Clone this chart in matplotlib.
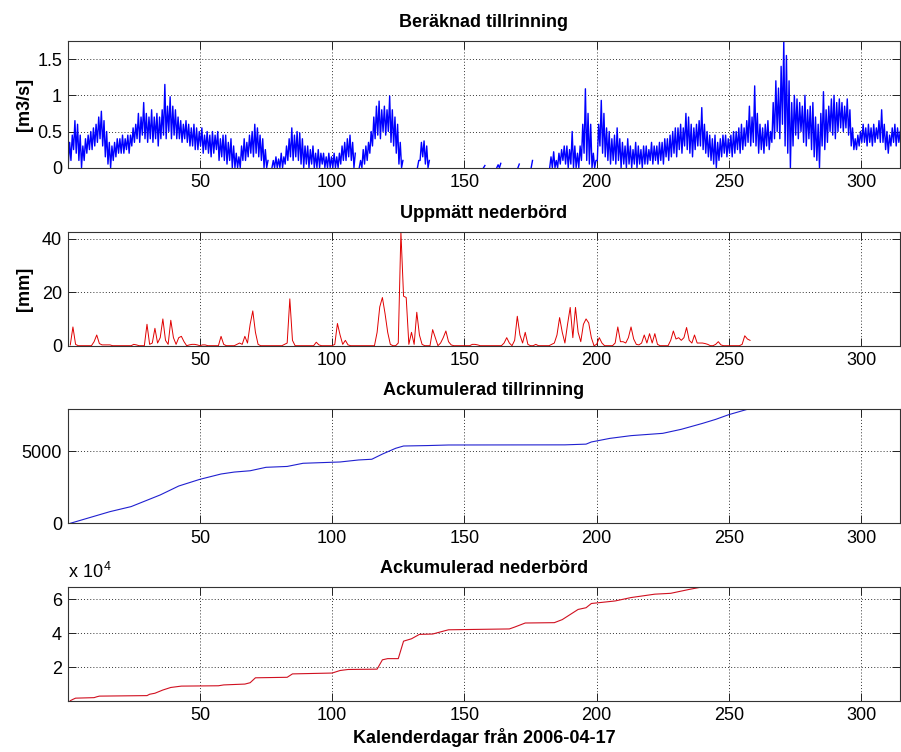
import numpy as np
import matplotlib
matplotlib.use("Agg")
import matplotlib.pyplot as plt

plt.rcParams['font.family'] = ['Liberation Sans', 'DejaVu Sans']
plt.rcParams['mathtext.fontset'] = 'custom'
plt.rcParams['mathtext.rm'] = 'Liberation Sans'

nan = np.nan

# daily low / high of the computed inflow [m3/s], day 1..315 (nan = no data)
FLOW_LO = [
    0.05, 0.1, 0.25, 0.2, 0.1, 0.0, 0.1, 0.2, 0.25, 0.25,
    0.3, 0.35, 0.4, 0.3, 0.15, 0.05, 0.0, 0.1, 0.15, 0.2,
    0.2, 0.2, 0.25, 0.2, 0.3, 0.35, 0.4, 0.35, 0.45, 0.4,
    0.35, 0.4, 0.35, 0.4, 0.3, 0.4, 0.45, 0.4, 0.5, 0.4,
    0.45, 0.4, 0.4, 0.35, 0.4, 0.35, 0.3, 0.3, 0.25, 0.25,
    0.3, 0.2, 0.25, 0.2, 0.15, 0.2, 0.25, 0.1, 0.15, 0.1,
    0.05, 0.1, 0.0, 0.0, 0.0, 0.0, 0.1, 0.1, 0.15, 0.2,
    0.15, 0.2, 0.15, 0.1, 0.0, 0.0, nan, 0.0, 0.0, 0.0,
    0.0, 0.0, 0.05, 0.1, 0.15, 0.1, 0.15, 0.1, 0.05, 0.0,
    0.05, 0.0, 0.05, 0.0, 0.0, 0.0, 0.05, 0.0, 0.0, 0.0,
    0.0, 0.0, 0.0, 0.05, 0.1, 0.1, 0.15, 0.1, 0.0, nan,
    0.0, 0.0, 0.05, 0.1, 0.2, 0.3, 0.4, 0.45, 0.4, 0.5,
    0.45, 0.5, 0.35, 0.3, 0.2, 0.05, 0.0, nan, nan, nan,
    nan, nan, 0.0, 0.1, 0.15, 0.05, 0.0, nan, nan, nan,
    nan, nan, nan, nan, nan, nan, nan, nan, nan, nan,
    nan, nan, nan, nan, nan, nan, nan, 0.0, nan, nan,
    nan, nan, 0.0, 0.0, nan, nan, nan, nan, nan, nan,
    0.0, nan, nan, nan, nan, 0.0, nan, nan, nan, nan,
    nan, nan, 0.0, 0.0, 0.0, 0.0, 0.05, 0.1, 0.05, 0.0,
    0.05, 0.0, 0.0, 0.0, 0.1, 0.2, 0.1, 0.05, 0.0, 0.0,
    0.1, 0.3, 0.2, 0.15, 0.1, 0.05, 0.1, 0.05, 0.1, 0.0,
    0.05, 0.0, 0.05, 0.0, 0.05, 0.0, 0.05, 0.0, 0.05, 0.05,
    0.1, 0.05, 0.1, 0.05, 0.1, 0.05, 0.15, 0.1, 0.15, 0.2,
    0.15, 0.25, 0.2, 0.3, 0.25, 0.2, 0.15, 0.25, 0.3, 0.3,
    0.25, 0.2, 0.15, 0.1, 0.05, 0.0, 0.1, 0.15, 0.2, 0.15,
    0.2, 0.15, 0.2, 0.25, 0.2, 0.25, 0.3, 0.35, 0.3, 0.35,
    0.3, 0.2, 0.25, 0.2, 0.3, 0.25, 0.35, 0.4, 0.5, 0.4,
    0.6, 0.3, 0.2, 0.0, 0.3, 0.45, 0.4, 0.5, 0.35, 0.3,
    0.4, 0.25, 0.15, 0.1, 0.0, 0.3, 0.25, 0.35, 0.5, 0.45,
    0.4, 0.5, 0.55, 0.5, 0.55, 0.45, 0.3, 0.25, 0.25, 0.3,
    0.35, 0.35, 0.3, 0.35, 0.3, 0.35, 0.4, 0.35, 0.35, 0.25,
    0.2, 0.3, 0.35, 0.3, 0.35,
]
FLOW_HI = [
    0.35, 0.45, 0.65, 0.6, 0.45, 0.3, 0.4, 0.45, 0.5, 0.55,
    0.6, 0.7, 0.78, 0.65, 0.5, 0.35, 0.3, 0.35, 0.4, 0.4,
    0.45, 0.4, 0.45, 0.45, 0.55, 0.6, 0.75, 0.7, 0.9, 0.75,
    0.7, 0.8, 0.7, 0.75, 0.7, 0.8, 1.15, 0.85, 0.98, 0.85,
    0.8, 0.7, 0.65, 0.6, 0.65, 0.6, 0.55, 0.6, 0.55, 0.5,
    0.55, 0.45, 0.5, 0.45, 0.5, 0.45, 0.5, 0.4, 0.45, 0.45,
    0.35, 0.4, 0.3, 0.2, 0.15, 0.3, 0.4, 0.35, 0.45, 0.5,
    0.6, 0.55, 0.45, 0.4, 0.25, 0.1, nan, 0.1, 0.15, 0.12,
    0.2, 0.15, 0.3, 0.4, 0.55, 0.45, 0.5, 0.48, 0.4, 0.3,
    0.3, 0.25, 0.3, 0.2, 0.25, 0.2, 0.2, 0.15, 0.2, 0.15,
    0.2, 0.15, 0.2, 0.3, 0.35, 0.4, 0.45, 0.35, 0.2, nan,
    0.1, 0.25, 0.3, 0.35, 0.5, 0.7, 0.85, 0.92, 0.8, 0.85,
    0.8, 0.99, 0.8, 0.7, 0.6, 0.35, 0.1, nan, nan, nan,
    nan, nan, 0.1, 0.35, 0.37, 0.3, 0.1, nan, nan, nan,
    nan, nan, nan, nan, nan, nan, nan, nan, nan, nan,
    nan, nan, nan, nan, nan, nan, nan, 0.03, nan, nan,
    nan, nan, 0.04, 0.06, nan, nan, nan, nan, nan, nan,
    0.05, nan, nan, nan, nan, 0.1, nan, nan, nan, nan,
    nan, nan, 0.15, 0.22, 0.1, 0.2, 0.25, 0.3, 0.3, 0.25,
    0.5, 0.3, 0.2, 0.3, 0.6, 1.09, 0.75, 0.6, 0.2, 0.1,
    0.6, 0.93, 0.75, 0.55, 0.5, 0.4, 0.45, 0.55, 0.4, 0.35,
    0.3, 0.4, 0.3, 0.25, 0.35, 0.3, 0.25, 0.3, 0.3, 0.25,
    0.35, 0.3, 0.3, 0.35, 0.35, 0.4, 0.4, 0.45, 0.5, 0.55,
    0.55, 0.6, 0.55, 0.75, 0.7, 0.6, 0.55, 0.6, 0.65, 0.83,
    0.6, 0.5, 0.45, 0.4, 0.45, 0.35, 0.4, 0.45, 0.45, 0.4,
    0.45, 0.5, 0.5, 0.55, 0.6, 0.55, 0.65, 0.85, 0.7, 1.13,
    0.75, 0.6, 0.55, 0.6, 0.65, 0.5, 0.9, 1.2, 1.1, 1.4,
    1.75, 1.55, 1.2, 0.9, 1.0, 0.95, 0.9, 0.85, 1.0, 0.8,
    0.85, 0.9, 0.7, 0.6, 0.75, 1.05, 0.8, 0.85, 0.95, 1.0,
    0.9, 0.95, 0.9, 0.85, 0.95, 0.8, 0.55, 0.4, 0.45, 0.5,
    0.6, 0.55, 0.6, 0.55, 0.6, 0.55, 0.65, 0.8, 0.6, 0.5,
    0.45, 0.55, 0.6, 0.55, 0.5,
]

# measured precipitation [mm], days with rain (all other days 1..258 are 0)
RAIN_DAY = [1, 2, 3, 10, 11, 12, 13, 14, 15, 16, 25, 26, 30, 31, 32, 33, 34, 35,
            36, 37, 38, 39, 40, 41, 42, 43, 44, 46, 47, 48, 49, 51, 52, 58, 59,
            64, 65, 66, 67, 68, 69, 70, 71, 72, 82, 83, 84, 85, 94, 95, 101, 102,
            103, 104, 105, 106, 117, 118, 119, 120, 121, 122, 125, 126, 127, 128,
            129, 130, 131, 132, 133, 134, 138, 139, 141, 142, 143, 144, 145, 153,
            154, 155, 165, 166, 167, 169, 170, 171, 172, 173, 174, 177, 183, 184,
            185, 186, 187, 188, 189, 190, 191, 192, 193, 194, 195, 196, 197, 198,
            200, 201, 202, 207, 208, 209, 210, 211, 212, 213, 214, 215, 216, 217,
            218, 219, 220, 221, 222, 223, 228, 229, 230, 231, 232, 233, 234, 235,
            236, 237, 238, 239, 240, 241, 242, 245, 246, 247, 255, 256, 257, 258]
RAIN_MM = [0.3, 7, 0.5, 1.5, 4, 0.8, 0.3, 0.3, 0.3, 0.3, 0.5, 0.3, 8, 0.5, 1, 6.5, 1, 3,
           10, 2, 0.5, 9.5, 3, 0.5, 3, 3.5, 1.5, 0.3, 0.5, 0.5, 0.3, 0.3, 0.3, 3.5, 0.5,
           0.5, 1, 0.5, 3.5, 1, 8, 13, 5, 0.5, 0.5, 1, 17.5, 2, 1.3, 0.3, 0.5, 8.3,
           4, 0.5, 2, 0.3, 5, 14.5, 18, 12, 5, 0.5, 1, 42.5, 18.5, 18,
           0.5, 5, 0.5, 12.5, 4, 0.5, 6, 3, 1, 3, 5.5, 1.5, 0.3, 0.5,
           0.5, 0.3, 1, 3, 1, 2, 11, 4, 1, 5, 0.5, 0.5, 0.5, 1,
           4, 10.5, 5, 1, 8, 14.3, 3, 14.3, 5, 1.5, 8, 10, 8.5, 3,
           0.5, 3, 1, 1, 7, 1.5, 1.5, 1, 3, 7, 2.5, 0.5, 0.3, 1,
           4, 1, 4.5, 1, 4.5, 0.5, 2, 5.5, 2.5, 3, 2, 3, 6.8, 2,
           1, 4, 1, 1, 1, 0.8, 0.5, 0.5, 1.5, 0.3, 0.5, 3.7, 2.5, 2]
RAIN_LAST_DAY = 258

# accumulated inflow
CUM_FLOW_DAY = [1, 16, 24, 35, 42, 50, 58, 63, 69, 75, 83, 89, 103, 110, 115, 119,
                124, 127, 136, 144, 188, 196, 198, 205, 213, 225, 232, 240, 245, 250, 257]
CUM_FLOW = [0, 810, 1160, 1970, 2590, 3055, 3425, 3560, 3650, 3890, 3950, 4170, 4260,
            4400, 4450, 4810, 5210, 5370, 5400, 5440, 5450, 5500, 5650, 5900, 6090,
            6250, 6530, 6940, 7220, 7550, 7920]

# accumulated precipitation
CUM_RAIN_DAY = [1, 2, 3, 10, 11, 12, 30, 31, 33, 36, 39, 43, 57, 59, 67, 69, 71, 83,
                85, 100, 103, 106, 117, 119, 121, 125, 127, 130, 133, 138, 143, 144,
                167, 169, 173, 184, 187, 193, 196, 198, 207, 213, 222, 228, 235, 240, 257]
CUM_RAIN = [200, 1000, 1700, 2000, 2500, 2900, 3200, 4000, 4600, 6500, 8000, 8800,
            9000, 9500, 10000, 10800, 13700, 14000, 16000, 16500, 18000, 18600, 18800,
            24300, 25000, 25000, 35300, 36700, 39300, 39500, 41600, 42000, 42500, 43600,
            46000, 46200, 48000, 54000, 55000, 57500, 59000, 61000, 63000, 63500, 65800,
            67300, 67400]

XTICKS = [50, 100, 150, 200, 250, 300]
XLIM = (0.25, 314.5)

W, H = 901, 752
fig = plt.figure(figsize=(W / 100, H / 100), dpi=100)


def px_axes(top, bottom, left=68.3, right=899.5):
    return fig.add_axes([left / W, 1 - bottom / H, (right - left) / W, (bottom - top) / H])


def style(ax, yticks, yticklabels=None):
    ax.set_xlim(*XLIM)
    ax.set_xticks(XTICKS)
    ax.set_yticks(yticks)
    if yticklabels is not None:
        ax.set_yticklabels(yticklabels)
    ax.tick_params(direction='in', top=True, right=True, length=6, width=0.7,
                   labelsize=13, pad=4.5, colors='#222222', labelcolor='black')
    ax.grid(True, linestyle=(0, (1, 2.2)), color='#333333', linewidth=0.7)
    for s in ax.spines.values():
        s.set_linewidth(0.8)
        s.set_color('#333333')


title_kw = dict(fontsize=13, fontweight='bold', pad=10)
ylab_kw = dict(fontsize=13, fontweight='bold', va='center')

# computed inflow: daily low/high drawn as a dense trace
days = np.arange(1, len(FLOW_LO) + 1)
fx = np.empty(2 * len(days))
fy = np.empty(2 * len(days))
fx[0::2] = days - 0.75
fx[1::2] = days - 0.25
fy[0::2] = FLOW_LO
fy[1::2] = FLOW_HI

ax1 = px_axes(41, 167.7)
ax1.plot(fx, fy, color='#0000ff', linewidth=1.0)
ax1.set_ylim(0, 1.75)
style(ax1, [0, 0.5, 1, 1.5], ['0', '0.5', '1', '1.5'])
ax1.set_title('Beräknad tillrinning', **title_kw)
ax1.set_ylabel('[m3/s]', **ylab_kw)
ax1.yaxis.set_label_coords(-0.053, 0.5)

# measured precipitation
rain = np.zeros(RAIN_LAST_DAY)
rain[np.array(RAIN_DAY) - 1] = RAIN_MM
ax2 = px_axes(231.7, 345.7)
ax2.plot(np.arange(1, RAIN_LAST_DAY + 1), rain, color='#e00000', linewidth=0.7)
ax2.set_ylim(0, 42.6)
style(ax2, [0, 20, 40])
ax2.set_title('Uppmätt nederbörd', **title_kw)
ax2.set_ylabel('[mm]', **ylab_kw)
ax2.yaxis.set_label_coords(-0.053, 0.5)

# accumulated inflow
ax3 = px_axes(409.3, 523.3)
ax3.plot(CUM_FLOW_DAY, CUM_FLOW, color='#2020d0', linewidth=0.8)
ax3.set_ylim(0, max(CUM_FLOW))
style(ax3, [0, 5000])
ax3.set_title('Ackumulerad tillrinning', **title_kw)

# accumulated precipitation, shown in units of 10^4
ax4 = px_axes(586.7, 700.7)
cum_rain = np.array(CUM_RAIN) / 1e4
ax4.plot(CUM_RAIN_DAY, cum_rain, color='#d01020', linewidth=0.8)
ax4.set_ylim(cum_rain.min(), cum_rain.max())
style(ax4, [2, 4, 6])
ax4.set_title('Ackumulerad nederbörd', **title_kw)
ax4.set_xlabel('Kalenderdagar från 2006-04-17', fontsize=13, fontweight='bold', labelpad=3)
fig.text(68 / W, 1 - 578 / H, r'$\mathregular{x\ 10^{4}}$', fontsize=13, va='baseline', ha='left')

fig.savefig('out.png', dpi=100)
